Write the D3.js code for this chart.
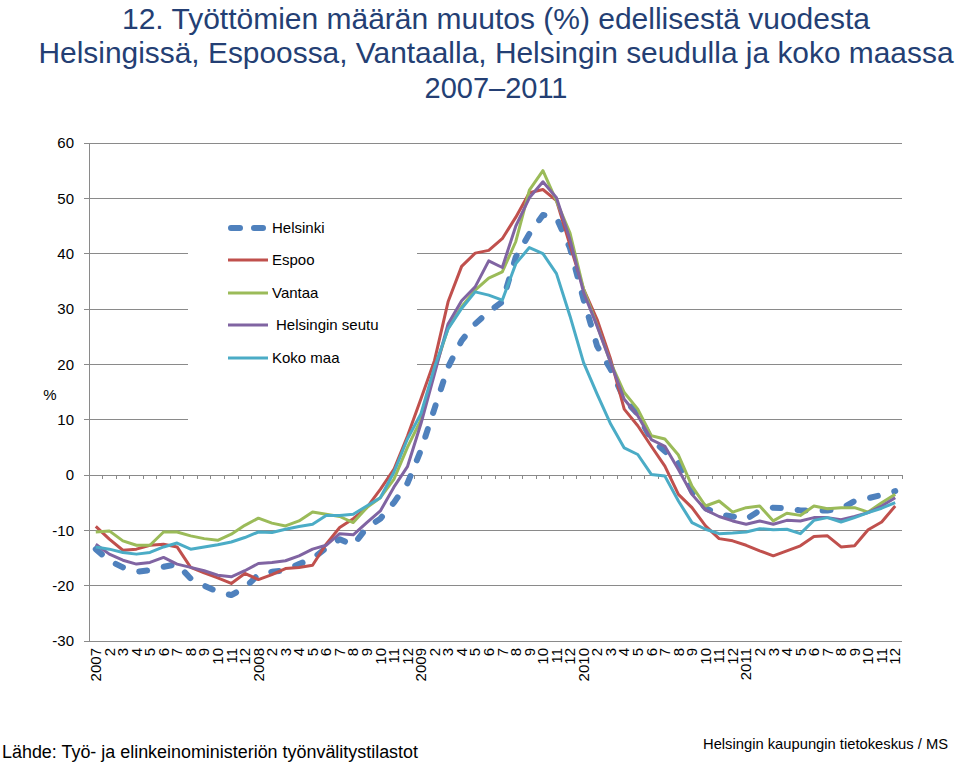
<!DOCTYPE html>
<html><head><meta charset="utf-8">
<script src="https://cdn.jsdelivr.net/npm/d3@7"></script>
<style>
html,body{margin:0;padding:0;background:#fff;}
svg{display:block;font-family:"Liberation Sans",Arial,sans-serif;}
</style></head>
<body>
<svg id="chart" width="960" height="765"></svg>
<script>
const xLabels = ["2007","2","3","4","5","6","7","8","9","10","11","12",
"2008","2","3","4","5","6","7","8","9","10","11","12",
"2009","2","3","4","5","6","7","8","9","10","11","12",
"2010","2","3","4","5","6","7","8","9","10","11","12",
"2011","2","3","4","5","6","7","8","9","10","11","12"];
const yTicks = [-30,-20,-10,0,10,20,30,40,50,60];
const seriesNames = ["Helsinki","Espoo","Vantaa","Helsingin seutu","Koko maa"];
const seriesColors = ["#4F81BD","#C0504D","#9BBB59","#8064A2","#4BACC6"];

const helsinki = [-13.4,-15.5,-16.7,-17.5,-17.2,-16.6,-16.1,-18.7,-20.0,-21.1,-21.7,-20.4,
-18.0,-17.5,-17.2,-16.1,-15.1,-13.2,-11.6,-12.7,-9.5,-7.9,-5.0,-1.5,
4.5,12.0,19.5,24.3,27.3,29.5,31.3,39.4,43.6,47.0,46.5,41.0,
31.7,23.3,19.1,13.7,11.0,6.4,4.3,2.3,-3.0,-6.0,-7.1,-7.5,
-8.0,-6.4,-5.9,-6.0,-6.4,-6.4,-6.4,-6.1,-4.7,-4.2,-3.6,-2.9];
const espoo = [-9.3,-11.6,-13.6,-13.4,-12.7,-12.5,-13.0,-16.7,-17.7,-18.6,-19.6,-17.8,
-18.9,-18.0,-16.9,-16.7,-16.3,-12.5,-9.5,-7.9,-5.9,-2.6,1.0,7.0,
13.8,20.7,31.3,37.7,40.1,40.6,42.7,46.6,51.0,51.6,49.6,41.5,
33.6,28.1,20.9,11.9,8.9,5.2,1.6,-3.5,-5.9,-9.2,-11.5,-11.9,
-12.7,-13.7,-14.6,-13.7,-12.8,-11.1,-11.0,-13.0,-12.8,-9.9,-8.5,-5.6];
const vantaa = [-10.3,-10.1,-11.9,-12.7,-12.7,-10.3,-10.3,-11.0,-11.5,-11.8,-10.7,-9.1,
-7.8,-8.7,-9.2,-8.3,-6.7,-7.1,-7.5,-8.6,-5.9,-4.1,-0.8,5.0,
10.0,18.9,26.5,30.4,33.4,35.6,36.7,42.2,51.5,55.0,49.5,43.7,
33.6,27.0,20.3,14.9,11.9,7.1,6.5,3.6,-2.0,-5.6,-4.7,-6.7,
-5.9,-5.6,-8.3,-6.9,-7.3,-5.6,-6.1,-5.9,-5.9,-6.7,-5.0,-3.5];
const seutu = [-12.5,-14.3,-15.4,-16.1,-15.8,-14.9,-16.1,-16.7,-17.3,-18.1,-18.4,-17.3,
-16.0,-15.8,-15.5,-14.6,-13.4,-12.7,-10.6,-10.8,-8.6,-6.5,-2.2,1.5,
9.3,18.3,27.3,31.5,34.0,38.7,37.5,45.0,50.1,53.0,50.1,42.5,
33.0,26.9,20.3,13.7,10.7,6.4,5.2,1.0,-3.5,-6.3,-7.5,-8.3,
-8.9,-8.3,-8.9,-8.2,-8.3,-7.7,-7.7,-8.1,-7.5,-6.8,-5.6,-4.1];
const kokoMaa = [-13.0,-13.4,-14.0,-14.3,-14.0,-13.0,-12.3,-13.4,-13.0,-12.6,-12.1,-11.3,
-10.3,-10.4,-9.8,-9.3,-8.9,-7.3,-7.3,-7.1,-5.6,-4.1,0.5,6.5,
11.1,19.5,26.4,30.1,33.1,32.5,31.6,38.2,41.1,40.0,36.4,28.7,
20.3,14.6,9.2,4.9,3.7,0.1,-0.2,-4.7,-8.6,-9.8,-10.6,-10.5,
-10.3,-9.7,-9.9,-9.8,-10.6,-8.2,-7.7,-8.5,-7.7,-6.8,-6.0,-5.0];
const seriesData = [helsinki, espoo, vantaa, seutu, kokoMaa];

const svg = d3.select("#chart");
const L = 89, R = 902, T = 143, B = 641;
const x = d3.scaleBand().domain(d3.range(xLabels.length)).range([L, R]);
const y = d3.scaleLinear().domain([-30, 60]).range([B, T]);
const cx = i => x(i) + x.bandwidth() / 2;
const gridColor = "#8a8a8a";

// Title
const titleLines = ["12. Työttömien määrän muutos (%) edellisestä vuodesta",
  "Helsingissä, Espoossa, Vantaalla, Helsingin seudulla ja koko maassa",
  "2007\u20132011"];
const titleY = [29, 63, 98];
const titleLen = [748, 915, 143];
svg.selectAll("text.title").data(titleLines).enter().append("text")
  .attr("class","title").attr("x",496).attr("y",(d,i)=>titleY[i])
  .attr("text-anchor","middle").attr("font-size",29).attr("fill","#243F74")
  .attr("textLength",(d,i)=>titleLen[i]).attr("lengthAdjust","spacingAndGlyphs")
  .text(d=>d);

// Gridlines
svg.append("g").selectAll("line").data(yTicks.filter(v=>v!==0)).enter().append("line")
  .attr("x1",L-5).attr("x2",R).attr("y1",d=>y(d)).attr("y2",d=>y(d))
  .attr("stroke",gridColor).attr("stroke-width",1).attr("shape-rendering","crispEdges");

// Y axis
svg.append("line").attr("x1",L).attr("x2",L).attr("y1",T).attr("y2",B)
  .attr("stroke",gridColor).attr("shape-rendering","crispEdges");
svg.append("g").selectAll("text").data(yTicks).enter().append("text")
  .attr("x",74).attr("y",d=>y(d)).attr("dy","0.35em").attr("text-anchor","end")
  .attr("font-size",15).attr("fill","#000").text(d=>d);
svg.append("text").attr("x",50).attr("y",395).attr("dy","0.35em").attr("text-anchor","middle")
  .attr("font-size",15).text("%");

// X axis at zero
const y0 = y(0);
svg.append("line").attr("x1",L-5).attr("x2",R).attr("y1",y0).attr("y2",y0)
  .attr("stroke",gridColor).attr("shape-rendering","crispEdges");
svg.append("g").selectAll("line").data(d3.range(xLabels.length+1)).enter().append("line")
  .attr("x1",i=>L+i*x.step()).attr("x2",i=>L+i*x.step()).attr("y1",y0).attr("y2",y0+4)
  .attr("stroke",gridColor).attr("shape-rendering","crispEdges");

// X labels
svg.append("g").selectAll("text").data(xLabels).enter().append("text")
  .attr("transform",(d,i)=>`translate(${cx(i)},648) rotate(-90)`)
  .attr("dy","0.35em").attr("text-anchor","end").attr("font-size",15).attr("fill","#000")
  .text(d=>d);

// Legend box (covers gridlines)
svg.append("rect").attr("x",188).attr("y",207).attr("width",229).attr("height",221).attr("fill","#fff");

// Lines
const line = d3.line().x((d,i)=>cx(i)).y(d=>y(d));
seriesData.forEach((s,k)=>{
  const p = svg.append("path").datum(s).attr("d",line).attr("fill","none")
    .attr("stroke",seriesColors[k]).attr("stroke-linejoin","round");
  if(k===0){ p.attr("stroke-width",6).attr("stroke-dasharray","8,17").attr("stroke-linecap","round"); }
  else { p.attr("stroke-width",3); }
});

// Legend entries
const legY = [228,260,293,325,358];
const lg = svg.append("g");
seriesNames.forEach((n,k)=>{
  if(k===0){
    lg.append("line").attr("x1",231).attr("x2",265).attr("y1",legY[k]).attr("y2",legY[k])
      .attr("stroke",seriesColors[k]).attr("stroke-width",6).attr("stroke-dasharray","9,14").attr("stroke-linecap","round");
  } else {
    lg.append("line").attr("x1",228).attr("x2",268).attr("y1",legY[k]).attr("y2",legY[k])
      .attr("stroke",seriesColors[k]).attr("stroke-width",3);
  }
  lg.append("text").attr("x",k===3?276:272).attr("y",legY[k]).attr("dy","0.35em")
    .attr("font-size",15).attr("fill","#000").text(n);
});

// Footer
svg.append("text").attr("x",2).attr("y",758).attr("font-size",18)
  .attr("textLength",416).attr("lengthAdjust","spacingAndGlyphs")
  .text("Lähde: Työ- ja elinkeinoministeriön työnvälitystilastot");
svg.append("text").attr("x",703).attr("y",749).attr("font-size",15)
  .attr("textLength",245).attr("lengthAdjust","spacingAndGlyphs")
  .text("Helsingin kaupungin tietokeskus / MS");
</script>
</body></html>
